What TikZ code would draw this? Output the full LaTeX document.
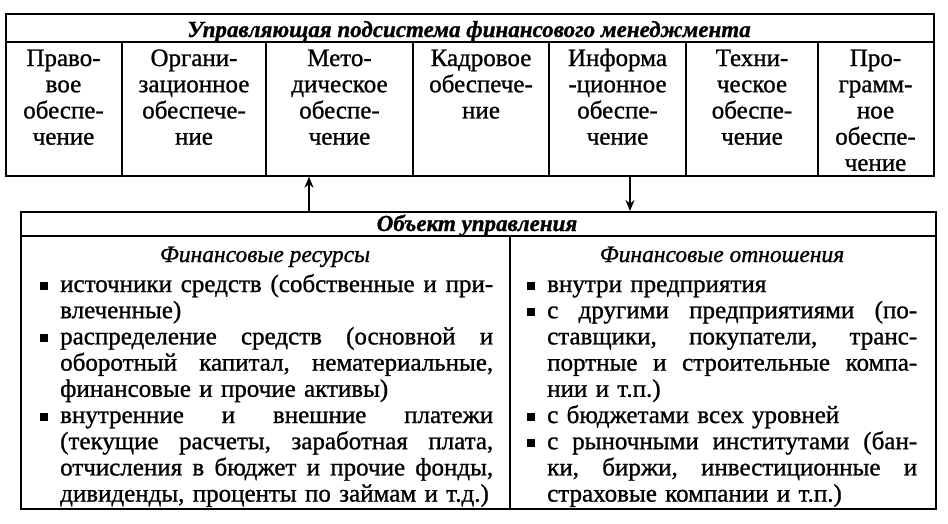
\documentclass[tikz,border=0pt]{standalone}
\usepackage{fontspec}
\setmainfont{Liberation Serif}[FakeBold=1]
\usetikzlibrary{arrows.meta}
\newcommand\mybul{\leavevmode\llap{\rule[2pt]{8pt}{8pt}\hspace{12pt}}}
\newcommand\jl[2][433pt]{\leavevmode\hbox to #1{#2}}
\tikzset{
  box/.style={draw, line width=1.7pt, inner sep=0pt, anchor=north west},
  sep/.style={line width=1.5pt},
  colt/.style={anchor=base, align=center, inner sep=0pt, text width=#1, font=\fontsize{25}{26.2}\selectfont},
  hdr/.style={anchor=base, inner sep=0pt, font=\fontsize{23}{26}\selectfont\bfseries\itshape},
  subh/.style={anchor=base, inner sep=0pt, font=\fontsize{23.5}{26}\selectfont\itshape},
  lst/.style={anchor=base west, inner sep=0pt, align=left, text width=#1, font=\fontsize{25}{26.2}\selectfont},
  arr/.style={line width=1.7pt, -{Stealth[length=11pt,width=9pt]}}
}
\begin{document}
\begin{tikzpicture}[x=1pt,y=-1pt]
\useasboundingbox (0,0) rectangle (948,523);
% boxes
\node[box, minimum width=928pt, minimum height=162pt] (topbox) at (5,13) {};
\node[box, minimum width=915pt, minimum height=297pt] (botbox) at (20,211) {};
% header lines
\coordinate (h1) at (0,42);
\coordinate (h2) at (0,236);
\draw[sep] (topbox.west |- h1) -- (topbox.east |- h1);
\draw[sep] (botbox.west |- h2) -- (botbox.east |- h2);
% column dividers
\foreach \x in {122,266,413,549,686,818} \draw[sep] (\x,42) -- (topbox.south -| \x,0);
\draw[sep] (510,236) -- (botbox.south -| 510,0);
% headers
\node[hdr] (th) at (469,37) {Управляющая подсистема финансового менеджмента};
\node[hdr] (bh) at (477,231) {Объект управления};
% top columns
\node[colt=113pt] (c1) at (63.5,66) {Право-\\вое\\обеспе-\\чение};
\node[colt=140pt] (c2) at (194,66) {Органи-\\зационное\\обеспече-\\ние};
\node[colt=143pt] (c3) at (339.5,66) {Мето-\\дическое\\обеспе-\\чение};
\node[colt=132pt] (c4) at (481,66) {Кадровое\\обеспече-\\ние};
\node[colt=133pt] (c5) at (617.5,66) {Информа\\-ционное\\обеспе-\\чение};
\node[colt=128pt] (c6) at (752,66) {Техни-\\ческое\\обеспе-\\чение};
\node[colt=111pt] (c7) at (875.5,66) {Про-\\грамм-\\ное\\обеспе-\\чение};
% sub headings
\node[subh] (s1) at (265,262) {Финансовые ресурсы};
\node[subh] (s2) at (722,262) {Финансовые отношения};
% lists
\node[lst=433pt] (l1) at (60,292) {%
\mybul\jl{источники\hfill средств\hfill (собственные\hfill и\hfill при-}\\
влеченные)\\
\mybul\jl{распределение\hfill средств\hfill (основной\hfill и}\\
\jl{оборотный\hfill капитал,\hfill нематериальные,}\\
финансовые и прочие активы)\\
\mybul\jl{внутренние\hfill и\hfill внешние\hfill платежи}\\
\jl{(текущие\hfill расчеты,\hfill заработная\hfill плата,}\\
\jl{отчисления\hfill в\hfill бюджет\hfill и\hfill прочие\hfill фонды,}\\
дивиденды, проценты по займам и т.д.)};
\node[lst=370pt] (l2) at (547,292) {%
\mybul внутри предприятия\\
\mybul\jl[370pt]{с\hfill другими\hfill предприятиями\hfill (по-}\\
\jl[370pt]{ставщики,\hfill покупатели,\hfill транс-}\\
\jl[370pt]{портные\hfill и\hfill строительные\hfill компа-}\\
нии и т.п.)\\
\mybul с бюджетами всех уровней\\
\mybul\jl[370pt]{с\hfill рыночными\hfill институтами\hfill (бан-}\\
\jl[370pt]{ки,\hfill биржи,\hfill инвестиционные\hfill и}\\
страховые компании и т.п.)};
% arrows
\coordinate (ax1) at (309,0);
\coordinate (ax2) at (630,0);
\draw[arr] (botbox.north -| ax1) -- (topbox.south -| ax1);
\draw[arr] (topbox.south -| ax2) -- (botbox.north -| ax2);
\end{tikzpicture}
\end{document}
